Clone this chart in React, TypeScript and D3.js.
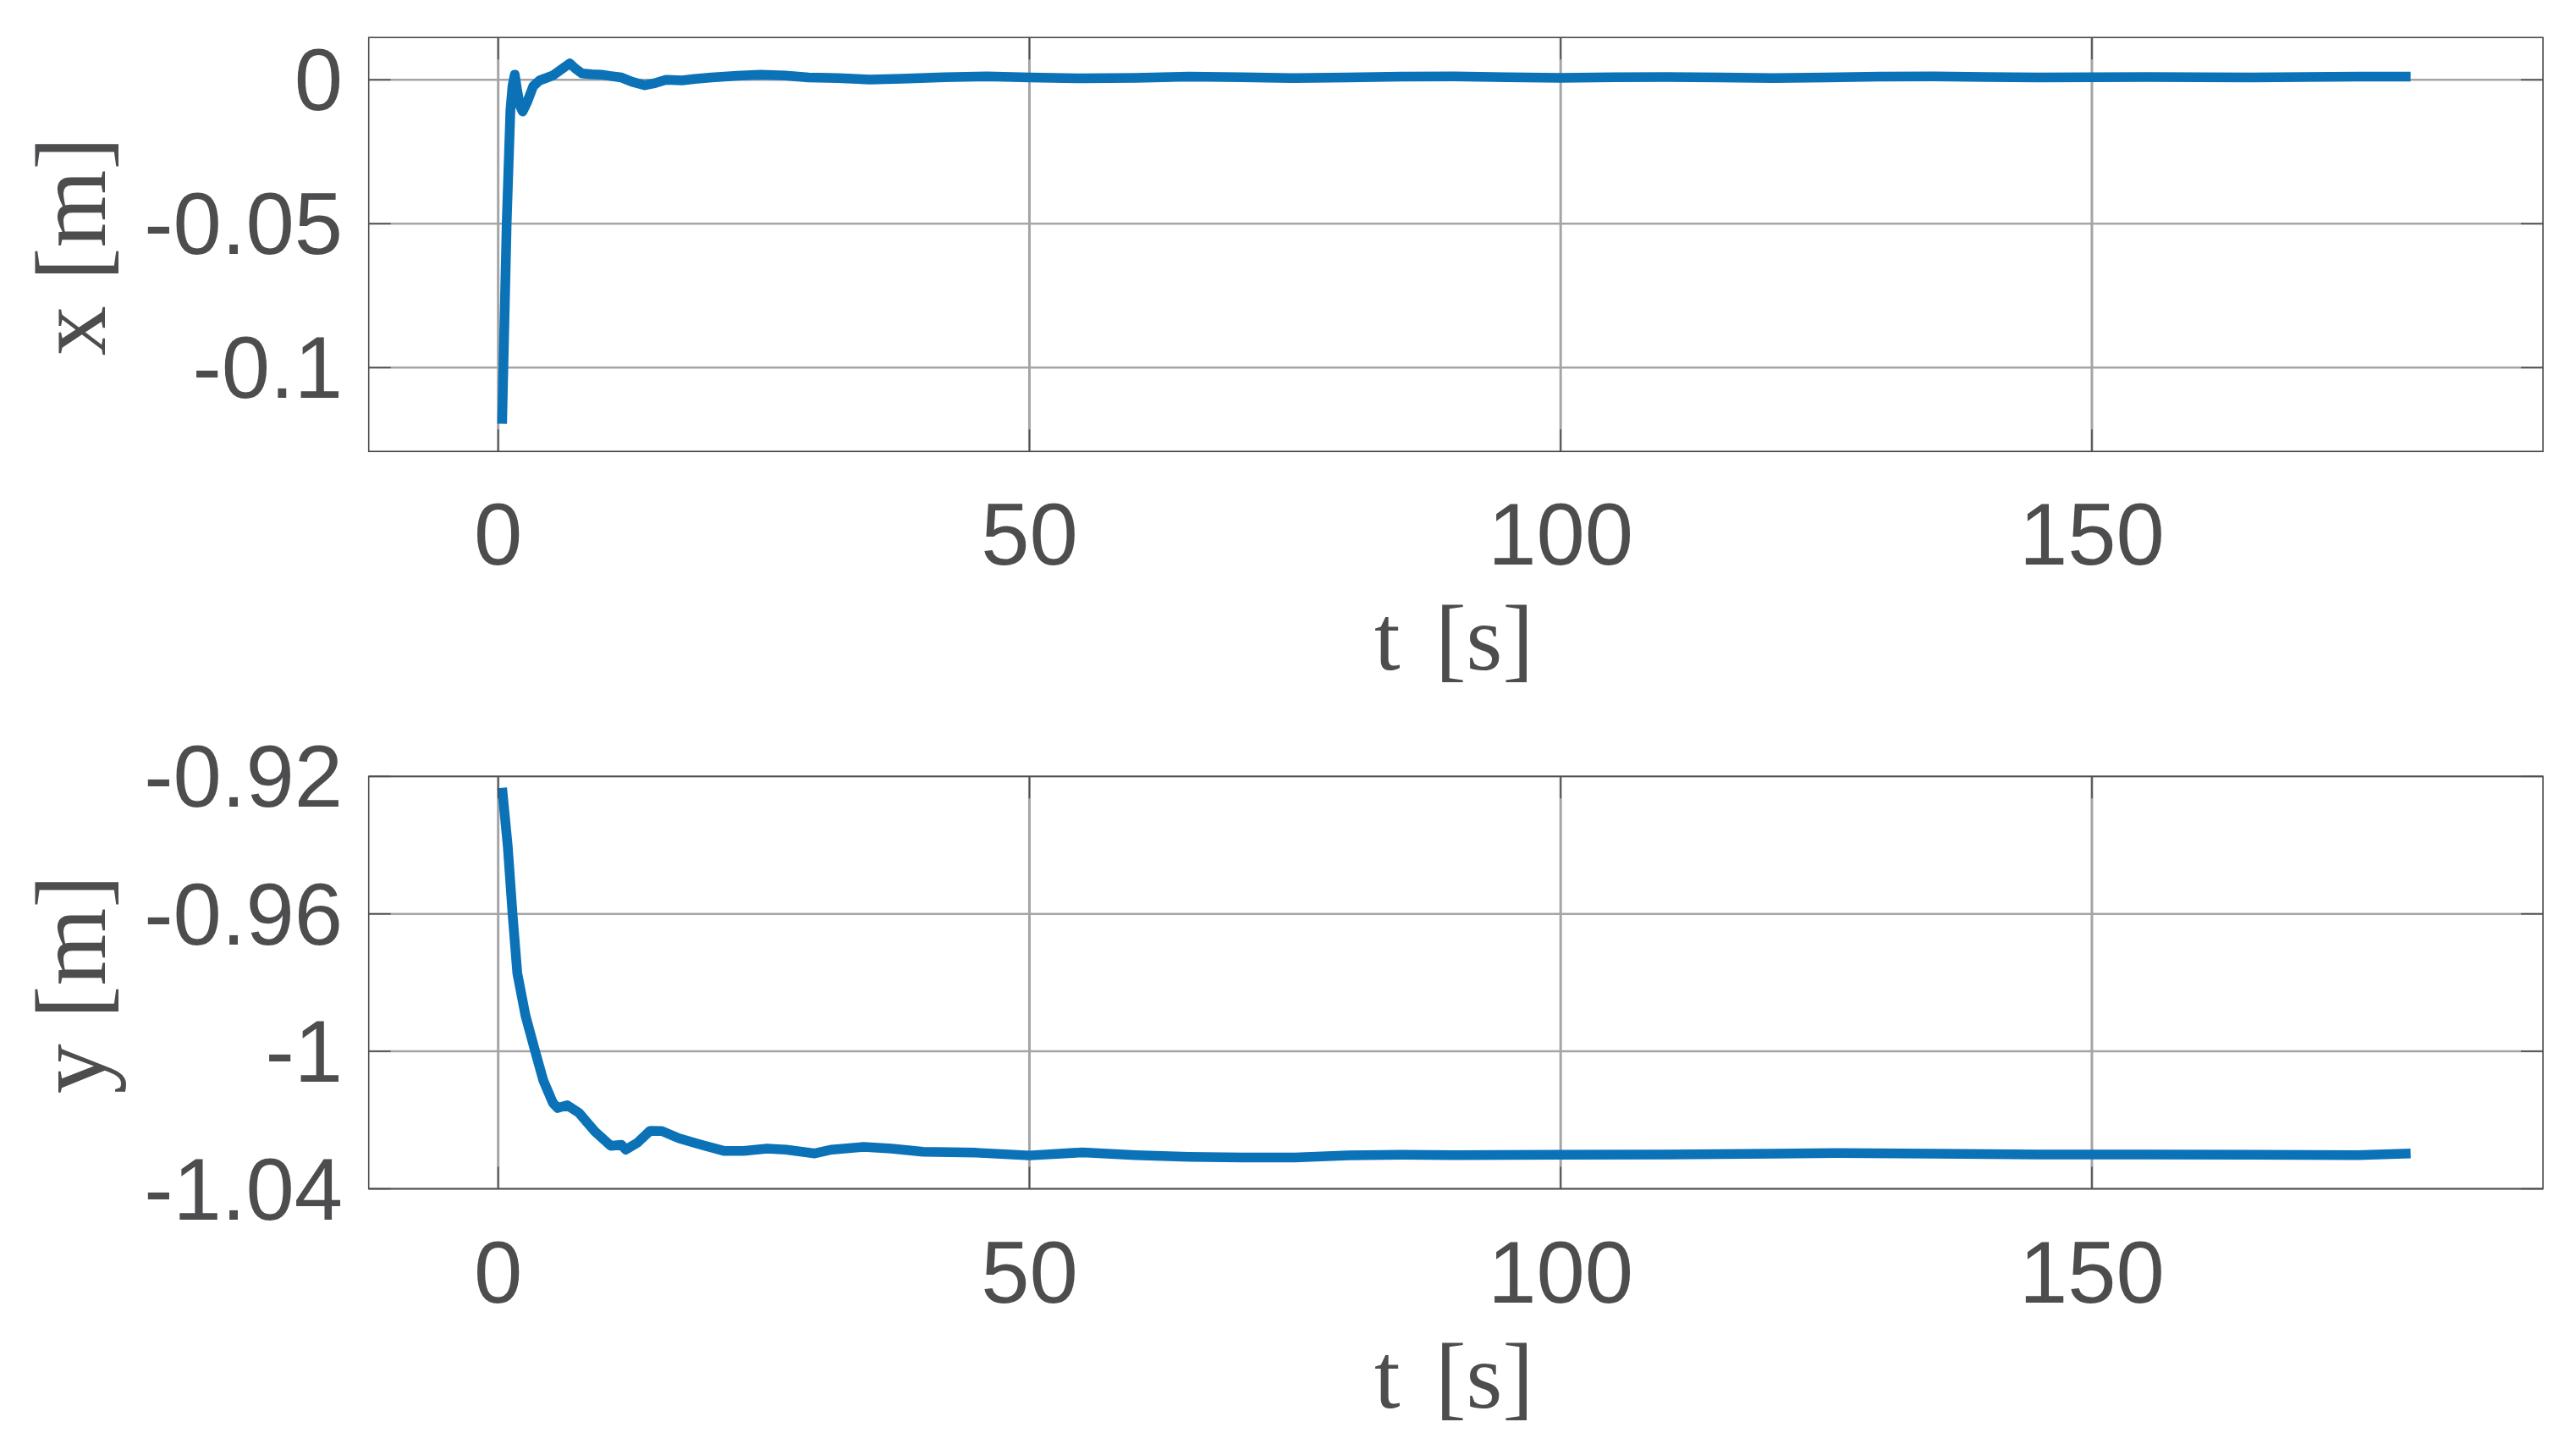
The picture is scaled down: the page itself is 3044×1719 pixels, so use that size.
import React from "react";
import * as d3 from "d3";

// ---- data ----
const tX = [0.37, 0.8, 1.15, 1.35, 1.56, 1.8, 2.05, 2.3, 2.7, 3.3, 3.9, 4.5, 5.15, 5.9, 6.74, 7.3, 7.9, 8.8, 9.7, 10.6, 11.6, 12.6, 13.8, 14.8, 15.8, 17.3, 18.5, 20.1, 22.5, 24.7, 27, 29.2, 32, 35, 38, 42, 46, 50, 55, 60, 65, 70, 75, 80, 85, 90, 95, 100, 105, 110, 115, 120, 125, 130, 135, 140, 145, 150, 155, 160, 165, 170, 175, 180];
const xVals = [-0.1195, -0.0497, -0.0105, -0.002, 0.0018, -0.004, -0.009, -0.011, -0.008, -0.0022, -0.0002, 0.0006, 0.0015, 0.0035, 0.0057, 0.0038, 0.0022, 0.0019, 0.0018, 0.0013, 0.0008, -0.0007, -0.0019, -0.0011, 0, -0.0002, 0.0003, 0.0008, 0.0014, 0.0018, 0.0015, 0.0008, 0.0006, 0.0001, 0.0004, 0.0009, 0.0012, 0.0008, 0.0005, 0.0007, 0.0011, 0.0009, 0.0006, 0.0008, 0.0011, 0.0012, 0.0009, 0.0007, 0.0009, 0.001, 0.0008, 0.0006, 0.0008, 0.0011, 0.0012, 0.001, 0.0008, 0.0009, 0.001, 0.0009, 0.0008, 0.001, 0.0011, 0.0011];

const tY = [0.37, 0.9, 1.35, 1.8, 2.57, 3.48, 4.25, 5.15, 5.6, 6.5, 7.6, 9.1, 10.6, 11.6, 12.0, 13.1, 14.3, 15.4, 17.0, 18.9, 21.3, 23.1, 25.3, 27.1, 29.8, 31.4, 34.4, 37, 40, 45, 50, 55, 60, 65, 70, 75, 80, 85, 90, 100, 110, 120, 126, 135, 145, 155, 165, 175, 180];
const yVals = [-0.9233, -0.9403, -0.96, -0.9773, -0.9896, -1.0, -1.0085, -1.015, -1.0165, -1.0157, -1.0179, -1.0233, -1.0275, -1.0272, -1.0286, -1.0266, -1.0231, -1.0232, -1.0253, -1.027, -1.029, -1.029, -1.0283, -1.0286, -1.0297, -1.0286, -1.0278, -1.0283, -1.0292, -1.0295, -1.0303, -1.0294, -1.0302, -1.0307, -1.0309, -1.0309, -1.0303, -1.0301, -1.0302, -1.0301, -1.03, -1.0298, -1.0296, -1.0298, -1.03, -1.03, -1.0301, -1.0302, -1.0297];

const tTicks = [0, 50, 100, 150];
const tTickLabels = ["0", "50", "100", "150"];
const xTicks = [-0.1, -0.05, 0];
const xTickLabels = ["-0.1", "-0.05", "0"];
const yTicks = [-1.04, -1, -0.96, -0.92];
const yTickLabels = ["-1.04", "-1", "-0.96", "-0.92"];

const W = 3044;
const H = 1719;
const LEFT = 435.7;
const RIGHT = 3005;
const T0PX = 588.7;
const PXPERUNIT = 12.555;

const AXIS_COLOR = "#4d4d4f";
const GRID_COLOR = "#a5a5a8";
const LINE_COLOR = "#0b72b8";
const TICK_FONT = "'Liberation Sans', Arial, sans-serif";
const LABEL_FONT = "'Liberation Serif', 'DejaVu Serif', serif";

type PanelProps = {
  top: number;
  bottom: number;
  yDomain: [number, number];
  t: number[];
  v: number[];
  ticks: number[];
  tickLabels: string[];
  ylabel: string;
};

function Panel({ top, bottom, yDomain, t, v, ticks, tickLabels, ylabel }: PanelProps) {
  const xs = d3
    .scaleLinear()
    .domain([(LEFT - T0PX) / PXPERUNIT, (RIGHT - T0PX) / PXPERUNIT])
    .range([LEFT, RIGHT]);
  const ys = d3.scaleLinear().domain(yDomain).range([bottom, top]);
  const pts: [number, number][] = t.map((d, i) => [d, v[i]]);
  const line = d3
    .line<[number, number]>()
    .x((d) => xs(d[0]))
    .y((d) => ys(d[1]));
  const tickLen = 26;
  return (
    <g>
      {/* grid */}
      {tTicks.map((tk) => (
        <line key={"gx" + tk} x1={xs(tk)} x2={xs(tk)} y1={top} y2={bottom} stroke={GRID_COLOR} strokeWidth={3} />
      ))}
      {ticks.map((tk) => (
        <line key={"gy" + tk} x1={LEFT} x2={RIGHT} y1={ys(tk)} y2={ys(tk)} stroke={GRID_COLOR} strokeWidth={2.5} />
      ))}
      {/* data */}
      <path d={line(pts) || ""} fill="none" stroke={LINE_COLOR} strokeWidth={11.5} strokeLinejoin="round" strokeLinecap="butt" />
      {/* frame */}
      <rect x={LEFT} y={top} width={RIGHT - LEFT} height={bottom - top} fill="none" stroke={AXIS_COLOR} strokeWidth={1.6} />
      {/* ticks */}
      {tTicks.map((tk) => (
        <g key={"tx" + tk}>
          <line x1={xs(tk)} x2={xs(tk)} y1={bottom} y2={bottom - tickLen} stroke={AXIS_COLOR} strokeWidth={1.6} />
          <line x1={xs(tk)} x2={xs(tk)} y1={top} y2={top + tickLen} stroke={AXIS_COLOR} strokeWidth={1.6} />
        </g>
      ))}
      {ticks.map((tk) => (
        <g key={"ty" + tk}>
          <line x1={LEFT} x2={LEFT + tickLen} y1={ys(tk)} y2={ys(tk)} stroke={AXIS_COLOR} strokeWidth={1.6} />
          <line x1={RIGHT} x2={RIGHT - tickLen} y1={ys(tk)} y2={ys(tk)} stroke={AXIS_COLOR} strokeWidth={1.6} />
        </g>
      ))}
      {/* tick labels */}
      {tTicks.map((tk, i) => (
        <text key={"lx" + tk} x={xs(tk)} y={bottom + 134} textAnchor="middle" fontFamily={TICK_FONT} fontSize={103} fill={AXIS_COLOR}>
          {tTickLabels[i]}
        </text>
      ))}
      {ticks.map((tk, i) => (
        <text key={"ly" + tk} x={405} y={ys(tk) + 36} textAnchor="end" fontFamily={TICK_FONT} fontSize={103} fill={AXIS_COLOR}>
          {tickLabels[i]}
        </text>
      ))}
      {/* axis labels */}
      <text x={1718} y={bottom + 258} textAnchor="middle" fontFamily={LABEL_FONT} fontSize={110} fill={AXIS_COLOR} wordSpacing={14}>
        t [s]
      </text>
      <text
        transform={`translate(124, ${(top + bottom) / 2 + 2}) rotate(-90)`}
        textAnchor="middle"
        fontFamily={LABEL_FONT}
        fontSize={118}
        fill={AXIS_COLOR}
      >
        {ylabel}
      </text>
    </g>
  );
}

export default function App() {
  return (
    <svg
      width={W}
      height={H}
      viewBox={`0 0 ${W} ${H}`}
      style={{ position: "absolute", left: 0, top: 0, background: "#ffffff" }}
    >
      <rect x={0} y={0} width={W} height={H} fill="#ffffff" />
      <Panel top={44.3} bottom={533.3} yDomain={[-0.1291, 0.0147]} t={tX} v={xVals} ticks={xTicks} tickLabels={xTickLabels} ylabel="x [m]" />
      <Panel top={917.3} bottom={1404.5} yDomain={[-1.04, -0.92]} t={tY} v={yVals} ticks={yTicks} tickLabels={yTickLabels} ylabel="y [m]" />
    </svg>
  );
}
